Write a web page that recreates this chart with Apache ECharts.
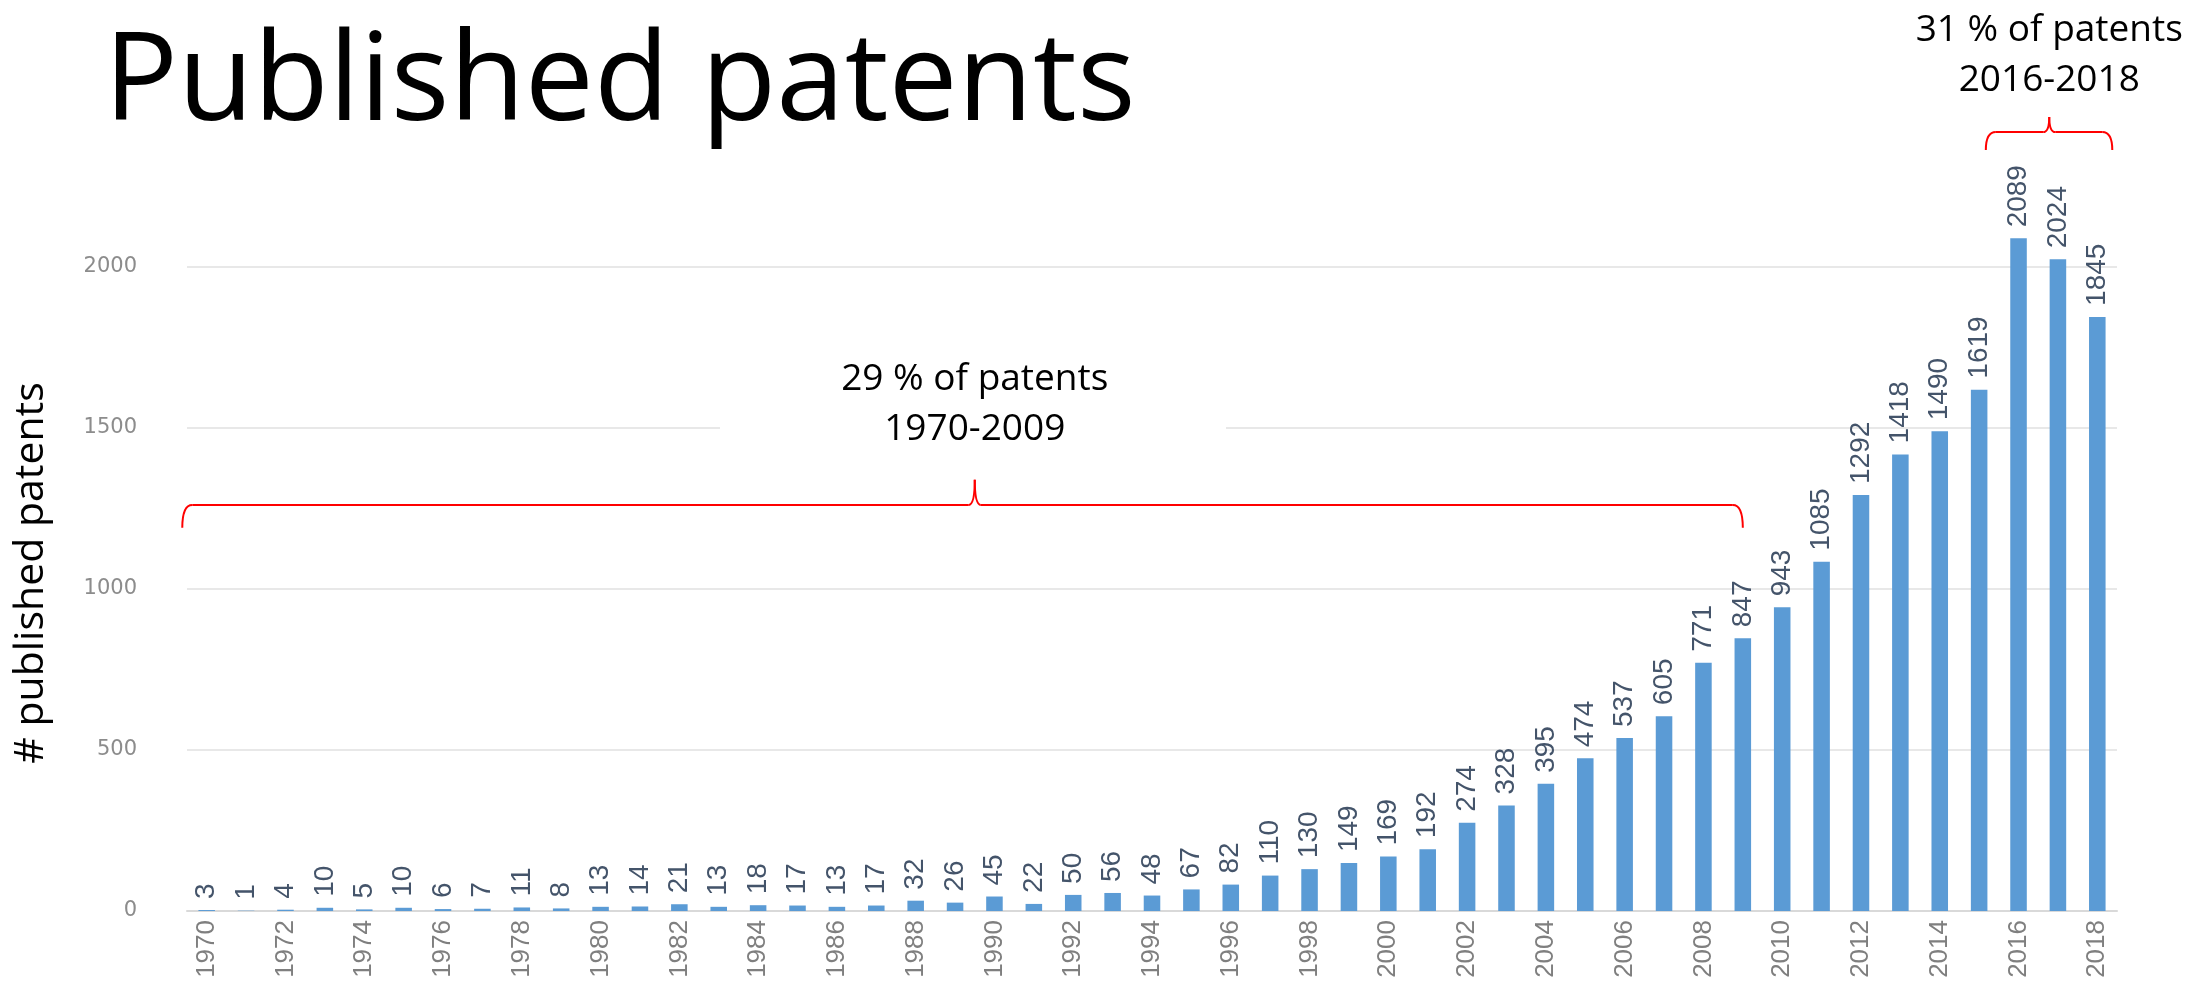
<!DOCTYPE html>
<html>
<head>
<meta charset="utf-8">
<script src="https://cdn.jsdelivr.net/npm/echarts@6/dist/echarts.min.js"></script>
<style>
  body { margin: 0; background: #fff; }
  #box { width: 2192px; height: 1001px; }
</style>
</head>
<body>
<div id="box"></div>
<script>
var years = ["1970", "1971", "1972", "1973", "1974", "1975", "1976", "1977", "1978", "1979",
  "1980", "1981", "1982", "1983", "1984", "1985", "1986", "1987", "1988", "1989",
  "1990", "1991", "1992", "1993", "1994", "1995", "1996", "1997", "1998", "1999",
  "2000", "2001", "2002", "2003", "2004", "2005", "2006", "2007", "2008", "2009",
  "2010", "2011", "2012", "2013", "2014", "2015", "2016", "2017", "2018"];
var patents = [3, 1, 4, 10, 5, 10, 6, 7, 11, 8,
  13, 14, 21, 13, 18, 17, 13, 17, 32, 26,
  45, 22, 50, 56, 48, 67, 82, 110, 130, 149,
  169, 192, 274, 328, 395, 474, 537, 605, 771, 847,
  943, 1085, 1292, 1418, 1490, 1619, 2089, 2024, 1845];
var yTicks = [0, 500, 1000, 1500, 2000];

var titleText = "Published patents";
var yTitle = "# published patents";
var note1 = "29 % of patents\n1970-2009";
var note2 = "31 % of patents\n2016-2018";

var myChart = echarts.init(document.getElementById("box"));
var option = {
  animation: false,
  grid: { left: 187, right: 75, top: 267, bottom: 90 },
  xAxis: {
    type: "category",
    data: years,
    axisTick: { show: false },
    axisLine: { lineStyle: { color: "#d9d9d9", width: 2 } },
    axisLabel: {
      interval: 1,
      rotate: 90,
      margin: 9,
      color: "#7f7f7f",
      fontSize: 26,
      fontFamily: "Liberation Sans"
    }
  },
  yAxis: {
    type: "value",
    min: yTicks[0],
    max: yTicks[yTicks.length - 1],
    interval: 500,
    axisLine: { show: false },
    axisTick: { show: false },
    splitLine: { lineStyle: { color: "#e8e8e8", width: 2 } },
    axisLabel: {
      margin: 50,
      color: "#8c8c8c",
      fontSize: 21,
      fontFamily: "DejaVu Sans",
      formatter: function (v) { return String(v); }
    }
  },
  series: [
    {
      type: "bar",
      data: patents,
      barWidth: "42%",
      clip: false,
      itemStyle: { color: "#5b9bd5" },
      label: {
        show: true,
        position: "top",
        rotate: 90,
        align: "left",
        verticalAlign: "middle",
        distance: 11,
        color: "#44546a",
        fontSize: 28,
        fontFamily: "Liberation Sans"
      }
    }
  ]
};
myChart.setOption(option);

// curly bracket: ends bend down, small cusp points up at cx
function bracket(x1, x2, cx, yLine, yEnd, yPeak) {
  var r = 10;
  var st = { stroke: "#ff0000", lineWidth: 2, fill: null };
  return {
    type: "group",
    children: [
      { type: "bezierCurve", z: 20, shape: { x1: x1, y1: yEnd, cpx1: x1, cpy1: yLine, x2: x1 + r, y2: yLine }, style: st },
      { type: "line", z: 20, shape: { x1: x1 + r, y1: yLine, x2: cx - 6, y2: yLine }, style: st },
      { type: "bezierCurve", z: 20, shape: { x1: cx - 6, y1: yLine, cpx1: cx, cpy1: yLine, x2: cx, y2: yPeak }, style: st },
      { type: "bezierCurve", z: 20, shape: { x1: cx, y1: yPeak, cpx1: cx, cpy1: yLine, x2: cx + 6, y2: yLine }, style: st },
      { type: "line", z: 20, shape: { x1: cx + 6, y1: yLine, x2: x2 - r, y2: yLine }, style: st },
      { type: "bezierCurve", z: 20, shape: { x1: x2 - r, y1: yLine, cpx1: x2, cpy1: yLine, x2: x2, y2: yEnd }, style: st }
    ]
  };
}

function px(idx, val) {
  var step = myChart.convertToPixel({ gridIndex: 0 }, [1, 0])[0] - myChart.convertToPixel({ gridIndex: 0 }, [0, 0])[0];
  var p = myChart.convertToPixel({ gridIndex: 0 }, [0, val]);
  return [p[0] + idx * step, p[1]];
}

var b1a = px(-0.62, 1261), b1b = px(39, 1190), b1c = px(19.5, 1339);
var b2a = px(45.17, 2419), b2b = px(48.38, 2363), b2c = px(46.78, 2466);
var t1 = px(19.5, 1573);

myChart.setOption({
  graphic: [
    {
      type: "text", z: 20, x: 104, y: 23,
      style: { text: titleText, fontSize: 123, fontFamily: "Open Sans", fill: "#000" }
    },
    {
      type: "text", z: 20, x: 31, y: 573, rotation: Math.PI / 2,
      style: { text: yTitle, fontSize: 41, fontFamily: "Open Sans", fill: "#000", align: "center", verticalAlign: "middle" }
    },
    {
      type: "rect", z: 10,
      shape: { x: 720, y: t1[1] - 60, width: 506, height: 120 },
      style: { fill: "#fff" }
    },
    {
      type: "text", z: 20, x: t1[0], y: t1[1],
      style: { text: note1, fontSize: 37, lineHeight: 50, fontFamily: "Open Sans", fill: "#000", align: "center", verticalAlign: "middle" }
    },
    {
      type: "text", z: 20, x: b2c[0], y: 55,
      style: { text: note2, fontSize: 37, lineHeight: 50, fontFamily: "Open Sans", fill: "#000", align: "center", verticalAlign: "middle" }
    },
    bracket(b1a[0], b1b[0], b1c[0], b1a[1], b1b[1], b1c[1]),
    bracket(b2a[0], b2b[0], b2c[0], b2a[1], b2b[1], b2c[1])
  ]
});
</script>
</body>
</html>
